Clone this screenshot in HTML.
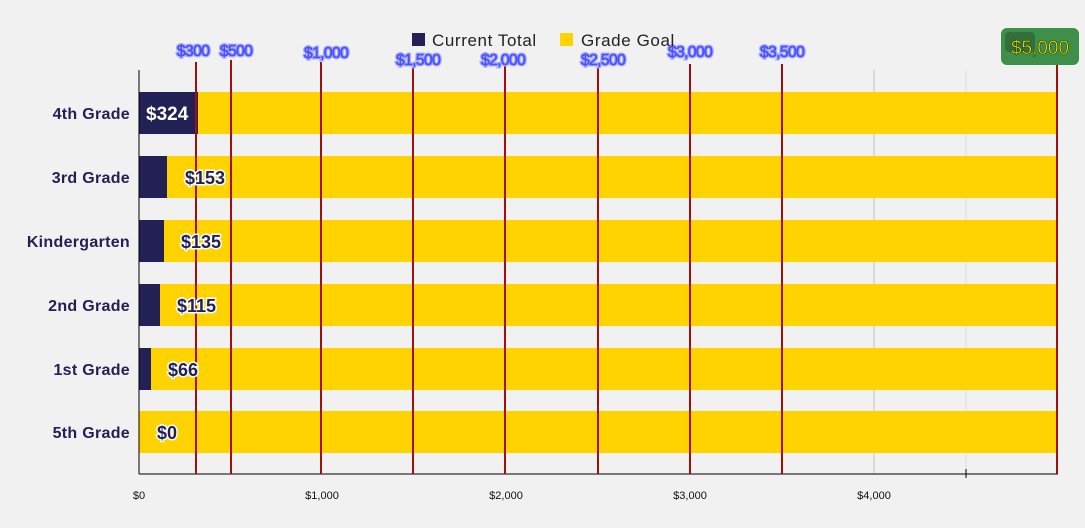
<!DOCTYPE html>
<html><head><style>
body{margin:0;background:#f1f1f1;}
svg{display:block;font-family:"Comic Sans MS","Liberation Sans",sans-serif;}
.cat{font-size:16px;fill:#232056;font-weight:bold;text-anchor:end;letter-spacing:0.3px;}
.ml{font-size:16px;fill:#4a50ff;stroke:#4a50ff;stroke-width:0.5;text-anchor:middle;font-family:"Liberation Sans",sans-serif;letter-spacing:-0.8px;}
.ml2{font-size:16px;fill:none;stroke:#a8acff;stroke-width:3;text-anchor:middle;font-family:"Liberation Sans",sans-serif;letter-spacing:-0.8px;}
.val{font-size:18px;fill:#232056;stroke:#fff;stroke-width:3;paint-order:stroke;font-weight:bold;}
.tick{font-size:11px;fill:#111;text-anchor:middle;font-family:"Liberation Sans",sans-serif;}
</style></head><body>
<svg width="1085" height="528" viewBox="0 0 1085 528">
<rect width="1085" height="528" fill="#f1f1f1"/>
<line x1="874" y1="70" x2="874" y2="474" stroke="#c4c4c4"/>
<line x1="966" y1="70" x2="966" y2="474" stroke="#dcdcdc"/>
<g fill="#ffd300">
<rect x="139" y="92" width="919" height="42"/>
<rect x="139" y="156" width="919" height="42"/>
<rect x="139" y="220" width="919" height="42"/>
<rect x="139" y="284" width="919" height="42"/>
<rect x="139" y="348" width="919" height="42"/>
<rect x="139" y="411" width="919" height="42"/>
</g>
<g fill="#232056">
<rect x="139" y="92" width="59" height="42"/>
<rect x="139" y="156" width="28" height="42"/>
<rect x="139" y="220" width="25" height="42"/>
<rect x="139" y="284" width="21" height="42"/>
<rect x="139" y="348" width="12" height="42"/>
</g>
<line x1="139" y1="70" x2="139" y2="474" stroke="#000"/>
<line x1="139" y1="474" x2="1058" y2="474" stroke="#000"/>
<line x1="966" y1="469" x2="966" y2="478" stroke="#000"/>
<g stroke="#a01010" stroke-width="2">
<line x1="196" y1="62" x2="196" y2="474"/>
<line x1="231" y1="60" x2="231" y2="474"/>
<line x1="321" y1="62" x2="321" y2="474"/>
<line x1="413" y1="66" x2="413" y2="474"/>
<line x1="505" y1="66" x2="505" y2="474"/>
<line x1="598" y1="66" x2="598" y2="474"/>
<line x1="690" y1="64" x2="690" y2="474"/>
<line x1="782" y1="64" x2="782" y2="474"/>
<line x1="1057" y1="64" x2="1057" y2="474"/>
</g>
<g>
<text class="ml2" x="193" y="56">$300</text><text class="ml" x="193" y="56">$300</text>
<text class="ml2" x="236" y="56">$500</text><text class="ml" x="236" y="56">$500</text>
<text class="ml2" x="326" y="58">$1,000</text><text class="ml" x="326" y="58">$1,000</text>
<text class="ml2" x="418" y="65">$1,500</text><text class="ml" x="418" y="65">$1,500</text>
<text class="ml2" x="503" y="65">$2,000</text><text class="ml" x="503" y="65">$2,000</text>
<text class="ml2" x="603" y="65">$2,500</text><text class="ml" x="603" y="65">$2,500</text>
<text class="ml2" x="690" y="57">$3,000</text><text class="ml" x="690" y="57">$3,000</text>
<text class="ml2" x="782" y="57">$3,500</text><text class="ml" x="782" y="57">$3,500</text>
</g>
<rect x="1001" y="28" width="78" height="37" rx="6" fill="#3d8f4a"/>
<rect x="1005" y="32" width="30" height="20" rx="4" fill="#2a5e2e" opacity="0.6"/>
<text x="1040" y="54" font-size="19" fill="#f0f000" stroke="#2a3a10" stroke-width="0.6" text-anchor="middle" font-family="Liberation Sans,sans-serif">$5,000</text>
<rect x="412" y="33" width="13" height="13" fill="#232056"/>
<text x="432" y="46" font-size="17" fill="#222" letter-spacing="0.6">Current Total</text>
<rect x="560" y="33" width="13" height="13" fill="#ffd300"/>
<text x="581" y="46" font-size="17" fill="#222" letter-spacing="0.6">Grade Goal</text>
<text class="cat" x="130" y="119">4th Grade</text>
<text class="cat" x="130" y="183">3rd Grade</text>
<text class="cat" x="130" y="247">Kindergarten</text>
<text class="cat" x="130" y="311">2nd Grade</text>
<text class="cat" x="130" y="375">1st Grade</text>
<text class="cat" x="130" y="438">5th Grade</text>
<text x="146" y="120" font-size="19" fill="#fff" font-weight="bold">$324</text>
<text class="val" x="185" y="184">$153</text>
<text class="val" x="181" y="248">$135</text>
<text class="val" x="177" y="312">$115</text>
<text class="val" x="168" y="376">$66</text>
<text class="val" x="157" y="439">$0</text>
<text class="tick" x="139" y="499">$0</text>
<text class="tick" x="322" y="499">$1,000</text>
<text class="tick" x="506" y="499">$2,000</text>
<text class="tick" x="690" y="499">$3,000</text>
<text class="tick" x="874" y="499">$4,000</text>
</svg>
</body></html>
